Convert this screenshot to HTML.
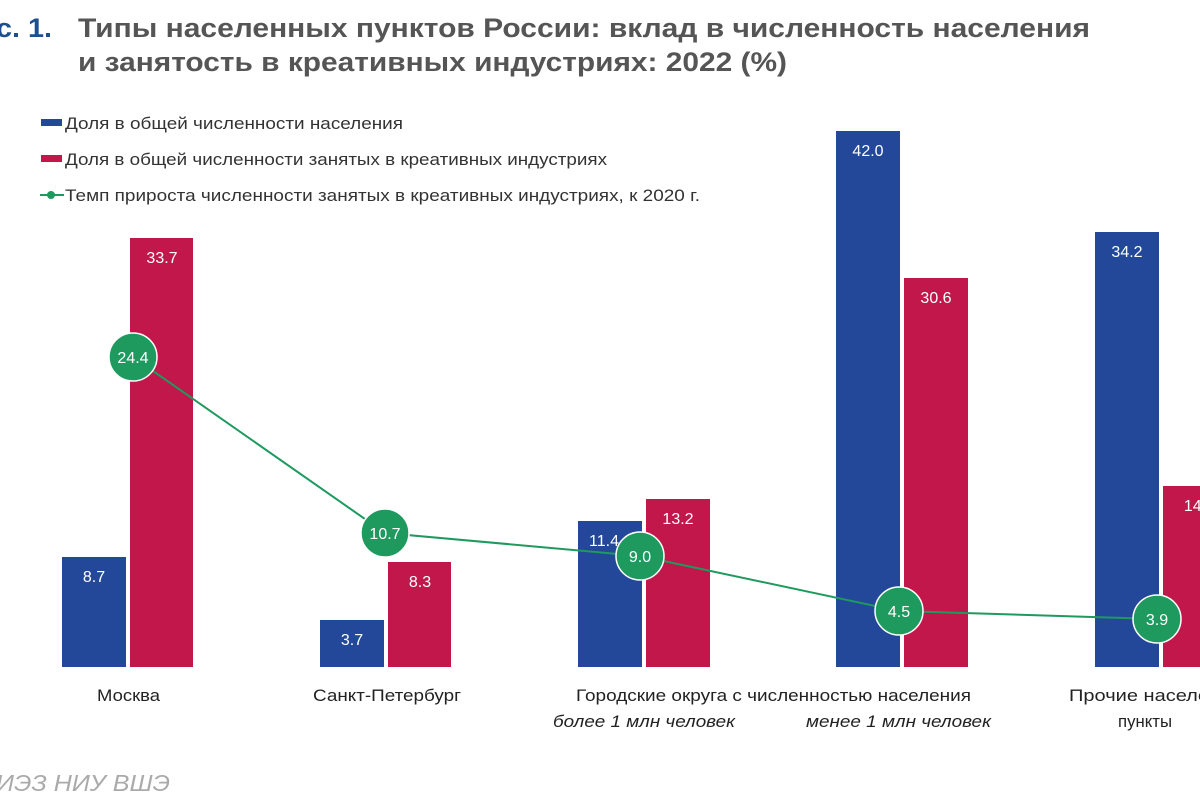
<!DOCTYPE html>
<html><head><meta charset="utf-8"><style>
html,body{margin:0;padding:0;background:#fff;}
svg{display:block;font-family:"Liberation Sans","Noto Sans CJK SC",sans-serif;}
</style></head><body>
<svg width="1200" height="800" viewBox="0 0 1200 800">
<text x="-4" y="37" font-size="27" font-weight="bold" fill="#1d4f8f" textLength="56" lengthAdjust="spacingAndGlyphs">с. 1.</text>
<text x="78" y="37" font-size="27" font-weight="bold" fill="#555" textLength="1012" lengthAdjust="spacingAndGlyphs">Типы населенных пунктов России: вклад в численность населения</text>
<text x="78" y="71" font-size="27" font-weight="bold" fill="#555" textLength="709" lengthAdjust="spacingAndGlyphs">и занятость в креативных индустриях: 2022 (%)</text>
<g font-size="17" fill="#333">
<rect x="41" y="119" width="21" height="7" fill="#23489a"/>
<text x="65" y="129" textLength="338" lengthAdjust="spacingAndGlyphs">Доля в общей численности населения</text>
<rect x="41" y="155" width="21" height="7" fill="#c2174a"/>
<text x="65" y="165" textLength="542" lengthAdjust="spacingAndGlyphs">Доля в общей численности занятых в креативных индустриях</text>
<line x1="40" y1="195" x2="64" y2="195" stroke="#1e9a5f" stroke-width="2"/>
<circle cx="51" cy="195" r="4" fill="#1e9a5f"/>
<text x="65" y="201" textLength="635" lengthAdjust="spacingAndGlyphs">Темп прироста численности занятых в креативных индустриях, к 2020 г.</text>
</g>
<g fill="#23489a">
<rect x="62" y="557" width="64" height="110"/>
<rect x="320" y="620" width="64" height="47"/>
<rect x="578" y="521" width="64" height="146"/>
<rect x="836" y="131" width="64" height="536"/>
<rect x="1095" y="232" width="64" height="435"/>
</g>
<g fill="#c2174a">
<rect x="130" y="238" width="63" height="429"/>
<rect x="388" y="562" width="63" height="105"/>
<rect x="646" y="499" width="64" height="168"/>
<rect x="904" y="278" width="64" height="389"/>
<rect x="1163" y="486" width="64" height="181"/>
</g>
<g fill="#fff" font-size="16" text-anchor="middle">
<text x="94" y="582">8.7</text><text x="162" y="263">33.7</text>
<text x="352" y="645">3.7</text><text x="420" y="587">8.3</text>
<text x="604" y="546">11.4</text><text x="678" y="524">13.2</text>
<text x="868" y="156">42.0</text><text x="936" y="303">30.6</text>
<text x="1127" y="257">34.2</text><text x="1195" y="511">14.</text>
</g>
<polyline points="133,357 385,533 640,556 899,611 1157,619" fill="none" stroke="#1e9a5f" stroke-width="2"/>
<g fill="#1e9a5f" stroke="#fff" stroke-width="1.5">
<circle cx="133" cy="357" r="24"/><circle cx="385" cy="533" r="24"/><circle cx="640" cy="556" r="24"/><circle cx="899" cy="611" r="24"/><circle cx="1157" cy="619" r="24"/>
</g>
<g fill="#fff" font-size="16" text-anchor="middle">
<text x="133" y="363">24.4</text><text x="385" y="539">10.7</text><text x="640" y="562">9.0</text><text x="899" y="617">4.5</text><text x="1157" y="625">3.9</text>
</g>
<g fill="#222" font-size="17" lengthAdjust="spacingAndGlyphs">
<text x="97" y="701" textLength="63" lengthAdjust="spacingAndGlyphs">Москва</text>
<text x="313" y="701" textLength="148" lengthAdjust="spacingAndGlyphs">Санкт-Петербург</text>
<text x="576" y="701" textLength="395" lengthAdjust="spacingAndGlyphs">Городские округа с численностью населения</text>
<text x="1069" y="701" textLength="140" lengthAdjust="spacingAndGlyphs">Прочие населе</text>
<text x="1118" y="727" textLength="54" lengthAdjust="spacingAndGlyphs">пункты</text>
<text x="553" y="727" font-style="italic" textLength="182" lengthAdjust="spacingAndGlyphs">более 1 млн человек</text>
<text x="806" y="727" font-style="italic" textLength="185" lengthAdjust="spacingAndGlyphs">менее 1 млн человек</text>
</g>
<text x="-4" y="791" font-size="23" font-style="italic" fill="#aaa" textLength="174" lengthAdjust="spacingAndGlyphs">ИЭЗ НИУ ВШЭ</text>
</svg>
</body></html>
